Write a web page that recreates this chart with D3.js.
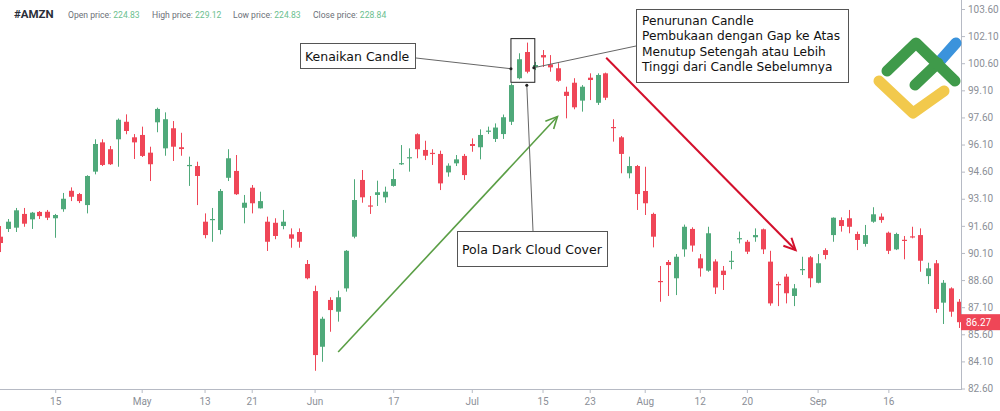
<!DOCTYPE html>
<html><head><meta charset="utf-8">
<script src="https://cdn.jsdelivr.net/npm/d3@7"></script>
<style>html,body{margin:0;padding:0;background:#fff;overflow:hidden;} svg{display:block;}</style>
</head><body>
<svg id="c" width="1000" height="411"></svg>
<script>
// ---- data (one candle per trading day, index 0..122) ----
const openP = [
 91.00,91.43,91.50,92.26,91.96,92.37,92.38,92.02,92.52,93.54,
 93.36,92.75,94.60,96.22,95.84,96.39,97.36,96.50,96.63,95.65,
 97.33,95.89,97.00,95.95,94.94,94.91,91.83,91.95,91.37,94.26,
 94.64,92.60,93.71,92.57,91.83,91.77,91.59,91.13,91.26,89.49,
 87.99,84.91,87.50,86.85,88.14,91.00,94.14,92.73,93.31,93.18,
 93.81,95.03,95.36,96.67,95.80,95.64,95.58,94.56,95.06,95.47,
 96.13,95.95,96.82,96.41,96.68,97.36,99.77,101.22,100.39,101.05,
 100.54,100.32,99.02,99.52,98.53,99.80,98.41,100.04,97.07,96.50,
 94.51,94.91,93.53,92.26,88.55,89.60,88.70,90.30,91.43,89.80,
 89.12,89.63,89.12,89.63,90.88,90.72,90.97,91.41,89.62,88.38,
 88.79,87.72,89.17,89.86,88.45,90.26,91.09,91.92,92.02,91.15,
 90.60,91.83,92.11,91.22,90.30,90.83,91.02,91.09,88.82,89.53,
 87.35,88.14,87.40];
const closeP = [
 90.65,91.83,92.46,91.72,92.33,92.14,92.05,92.20,93.10,93.21,
 92.97,94.36,96.13,94.97,95.01,97.47,96.85,96.22,95.47,95.01,
 98.07,97.50,95.98,95.85,94.97,94.36,91.09,91.98,93.53,95.34,
 93.35,92.88,92.85,92.97,90.72,91.04,91.83,90.89,90.72,88.70,
 84.45,86.46,86.94,87.65,90.22,93.03,93.18,92.70,93.46,93.49,
 94.19,95.07,95.40,95.84,95.48,95.60,93.95,94.93,95.28,94.41,
 96.02,96.63,96.87,97.04,97.61,99.39,100.82,100.13,100.50,100.92,
 100.37,99.63,98.79,98.16,99.30,99.67,99.95,98.69,97.01,95.58,
 94.91,93.36,92.85,91.00,88.49,89.43,89.89,91.55,90.51,89.25,
 91.19,88.19,88.88,89.67,90.92,90.17,91.09,90.30,87.31,88.34,
 87.87,88.14,89.21,88.70,89.53,89.99,92.05,91.59,91.55,90.82,
 91.09,92.24,91.92,90.22,91.15,90.80,90.98,89.67,89.25,87.00,
 88.45,86.85,86.27];
const highP = [
 91.59,91.98,92.59,92.59,92.37,92.42,92.48,92.26,93.42,93.73,
 93.42,94.40,96.39,96.39,96.02,97.54,97.77,96.68,97.09,95.98,
 98.14,97.88,97.40,96.75,95.43,95.15,92.29,92.59,93.64,95.84,
 95.52,93.31,93.86,93.49,92.11,92.02,92.48,91.46,91.46,89.71,
 88.29,86.57,87.65,88.01,90.26,94.18,94.69,93.25,94.10,93.77,
 94.75,96.07,95.89,96.72,96.31,95.84,95.76,95.06,95.52,95.58,
 96.44,96.94,97.09,97.27,97.76,99.49,101.15,101.74,100.67,101.33,
 101.05,100.60,99.30,99.77,99.39,100.04,100.04,100.08,97.50,96.57,
 95.43,94.97,94.87,92.33,89.38,89.71,90.04,91.67,91.52,90.04,
 91.55,89.75,89.38,90.21,91.28,90.82,91.46,91.45,90.22,88.51,
 88.94,88.38,89.89,89.93,90.04,90.36,92.07,92.07,92.48,91.28,
 91.65,92.63,92.29,91.28,91.22,91.04,91.55,91.46,89.56,89.71,
 88.60,88.20,87.55];
const lowP = [
 90.15,91.26,91.26,91.55,91.43,91.98,91.92,90.94,92.38,92.97,
 92.86,92.29,94.45,94.91,94.97,94.87,96.67,95.30,95.41,94.08,
 96.78,95.48,95.19,95.48,93.81,92.75,90.91,90.72,91.13,94.08,
 93.31,91.74,92.29,92.56,90.21,90.86,91.41,90.39,90.39,88.64,
 83.58,84.08,85.74,86.30,87.96,90.91,92.88,92.26,92.70,92.88,
 93.77,94.97,94.60,95.34,95.24,94.97,93.58,94.32,94.91,94.14,
 95.70,95.28,96.68,96.24,96.41,97.18,99.71,100.04,100.22,100.39,
 100.13,99.57,97.55,98.05,97.92,98.56,98.29,98.56,96.26,94.51,
 94.23,92.48,92.20,90.41,87.40,87.72,87.77,89.89,90.17,88.79,
 89.06,87.83,88.05,89.20,90.63,90.04,90.72,90.04,87.18,87.16,
 87.31,87.16,88.88,88.20,88.42,89.75,90.72,91.28,91.19,90.26,
 90.45,91.77,91.77,90.04,90.26,89.75,90.91,89.06,88.38,86.79,
 86.17,86.57,85.95];
const yTicks = [103.6,102.1,100.6,99.1,97.6,96.1,94.6,93.1,91.6,90.1,88.6,87.1,85.6,84.1,82.6];
const xTickIdx = [7,18,26,32,40,50,60,69,75,82,89,95,104,113];
const xTickLabels = ["15","May","13","21","Jun","17","Jul","15","23","Aug","12","20","Sep","16"];
const header = [["Open price:","224.83"],["High price:","229.12"],["Low price:","224.83"],["Close price:","228.84"]];
const lastPrice = 86.27;

// ---- layout ----
const GREEN = "#4fa97a", RED = "#ef4657", AXIS = "#b6bac4", TXT = "#8b8f97";
const svg = d3.select("#c");
const axisX = 961, axisY = 389;
const x = d3.scaleLinear().domain([0, 122]).range([0.2, 959.1]);
const y = d3.scaleLinear().domain([82.6, 103.6]).range([388.5, 9]);
const data = openP.map((o,i)=>({i, o, c: closeP[i], h: highP[i], l: lowP[i]}));

svg.append("defs").append("clipPath").attr("id","plot")
  .append("rect").attr("x",0).attr("y",0).attr("width",axisX).attr("height",axisY);

// header
const hg = svg.append("g").attr("font-family","Roboto, sans-serif");
hg.append("text").attr("x",14).attr("y",18).attr("font-size",11.5).attr("font-weight","bold")
  .attr("fill","#2a2e39").text("#AMZN");
const hx = [68,152,233,313];
header.forEach((h,k)=>{
  const t = hg.append("text").attr("x",hx[k]).attr("y",17.5).attr("font-size",8.6);
  t.append("tspan").attr("fill","#6b6f77").text(h[0]+" ");
  t.append("tspan").attr("fill","#6cc08f").text(h[1]);
});

// candles
const cg = svg.append("g").attr("clip-path","url(#plot)");
const col = d => d.c >= d.o ? GREEN : RED;
cg.selectAll("line.w").data(data).join("line").attr("class","w")
  .attr("x1",d=>Math.round(x(d.i))+0.5).attr("x2",d=>Math.round(x(d.i))+0.5)
  .attr("y1",d=>y(d.h)).attr("y2",d=>y(d.l)).attr("stroke",col).attr("stroke-width",1);
cg.selectAll("rect.b").data(data).join("rect").attr("class","b")
  .attr("x",d=>Math.round(x(d.i))-2).attr("width",5)
  .attr("y",d=>y(Math.max(d.o,d.c)))
  .attr("height",d=>Math.max(1.2, Math.abs(y(d.o)-y(d.c))))
  .attr("fill",col);

// axes
const ya = svg.append("g").attr("transform",`translate(${axisX},0)`)
  .call(d3.axisRight(y).tickValues(yTicks).tickFormat(d=>d.toFixed(2)).tickSize(4).tickPadding(3));
ya.select(".domain").remove();
ya.selectAll("line").attr("stroke",AXIS);
ya.selectAll("text").attr("fill",TXT).attr("font-size",10).attr("font-family","Roboto, sans-serif");
const xa = svg.append("g").attr("transform",`translate(0,${axisY})`)
  .call(d3.axisBottom(x).tickValues(xTickIdx).tickFormat((d,k)=>xTickLabels[k]).tickSize(4).tickPadding(5));
xa.select(".domain").remove();
xa.selectAll("line").attr("stroke",AXIS);
xa.selectAll("text").attr("fill",TXT).attr("font-size",10).attr("font-family","Roboto, sans-serif");
svg.append("line").attr("x1",0).attr("x2",axisX).attr("y1",axisY+0.5).attr("y2",axisY+0.5).attr("stroke",AXIS);
svg.append("line").attr("x1",axisX+0.5).attr("x2",axisX+0.5).attr("y1",0).attr("y2",axisY+1).attr("stroke",AXIS);

// last price label
const ly = y(lastPrice);
svg.append("rect").attr("x",axisX).attr("y",ly-8).attr("width",1000-axisX).attr("height",16).attr("fill",RED);
svg.append("text").attr("x",axisX+5).attr("y",ly+4).attr("fill","#fff").attr("font-size",10)
  .attr("font-family","Roboto, sans-serif").text(lastPrice.toFixed(2));

// ---- annotations ----
const ag = svg.append("g");
function arrow(x1,y1,x2,y2,color,w){
  ag.append("line").attr("x1",x1).attr("y1",y1).attr("x2",x2).attr("y2",y2)
    .attr("stroke",color).attr("stroke-width",w);
  const a = Math.atan2(y2-y1,x2-x1), L = 13, s = 0.45;
  const p = [[x2-L*Math.cos(a-s), y2-L*Math.sin(a-s)],[x2,y2],[x2-L*Math.cos(a+s), y2-L*Math.sin(a+s)]];
  ag.append("path").attr("d",d3.line()(p)).attr("fill","none").attr("stroke",color).attr("stroke-width",w);
}
arrow(x(43), y(84.62), x(70.9), y(97.65), "#5a9e45", 1.6);
arrow(x(77.1), y(100.9), x(101.2), y(90.26), "#d3102c", 2);

// box around the two pattern candles
const bx0 = x(66)-8, bx1 = x(67)+8, by0 = y(highP[67])-4, by1 = y(lowP[66])+3;
ag.append("rect").attr("x",bx0).attr("y",by0).attr("width",bx1-bx0).attr("height",by1-by0)
  .attr("fill","none").attr("stroke","#222").attr("stroke-width",1);

const FONT = "'DejaVu Sans', sans-serif";
function box(x0,y0,w,h){
  ag.append("rect").attr("x",x0).attr("y",y0).attr("width",w).attr("height",h)
    .attr("fill","#fff").attr("stroke","#555").attr("stroke-width",1);
}
function conn(x1,y1,x2,y2){
  ag.append("line").attr("x1",x1).attr("y1",y1).attr("x2",x2).attr("y2",y2).attr("stroke","#666").attr("stroke-width",1);
  ag.append("circle").attr("cx",x2).attr("cy",y2).attr("r",1.5).attr("fill","#222");
}
// Kenaikan Candle
box(300.5,43.5,115,25);
ag.append("text").attr("x",305).attr("y",60.5).attr("font-family",FONT).attr("font-size",12.5)
  .attr("fill","#111").text("Kenaikan Candle");
conn(416, 58, bx0, y((openP[66]+closeP[66])/2));
// Penurunan Candle
box(636.5,9.5,212,73);
const lines = ["Penurunan Candle","Pembukaan dengan Gap ke Atas","Menutup Setengah atau Lebih","Tinggi dari Candle Sebelumnya"];
const ly0 = [24.5,40,55.5,71];
lines.forEach((t,k)=>ag.append("text").attr("x",642).attr("y",ly0[k]).attr("font-family",FONT)
  .attr("font-size",12.2).attr("fill","#111").text(t));
conn(636, 46, bx1-1, y(100.35));
// Pola Dark Cloud Cover
conn(533, 231, x(67), by1+3);
box(457.5,231.5,150,35);
ag.append("text").attr("x",462).attr("y",253.5).attr("font-family",FONT).attr("font-size",12.5)
  .attr("fill","#111").text("Pola Dark Cloud Cover");

// logo
const lg = svg.append("g").attr("fill","none").attr("stroke-linecap","round").attr("stroke-linejoin","round").attr("stroke-width",11);
lg.append("path").attr("d","M940,61 L956,43").attr("stroke","#3b93dc");
lg.append("path").attr("d","M915,85 L938,63").attr("stroke","#3f9a4a");
lg.append("path").attr("d","M887,71 L916,43 L955,81").attr("stroke","#3f9a4a");
lg.append("path").attr("d","M879,81 L913,113 L944,91").attr("stroke","#f2c94c");
</script>
</body></html>
